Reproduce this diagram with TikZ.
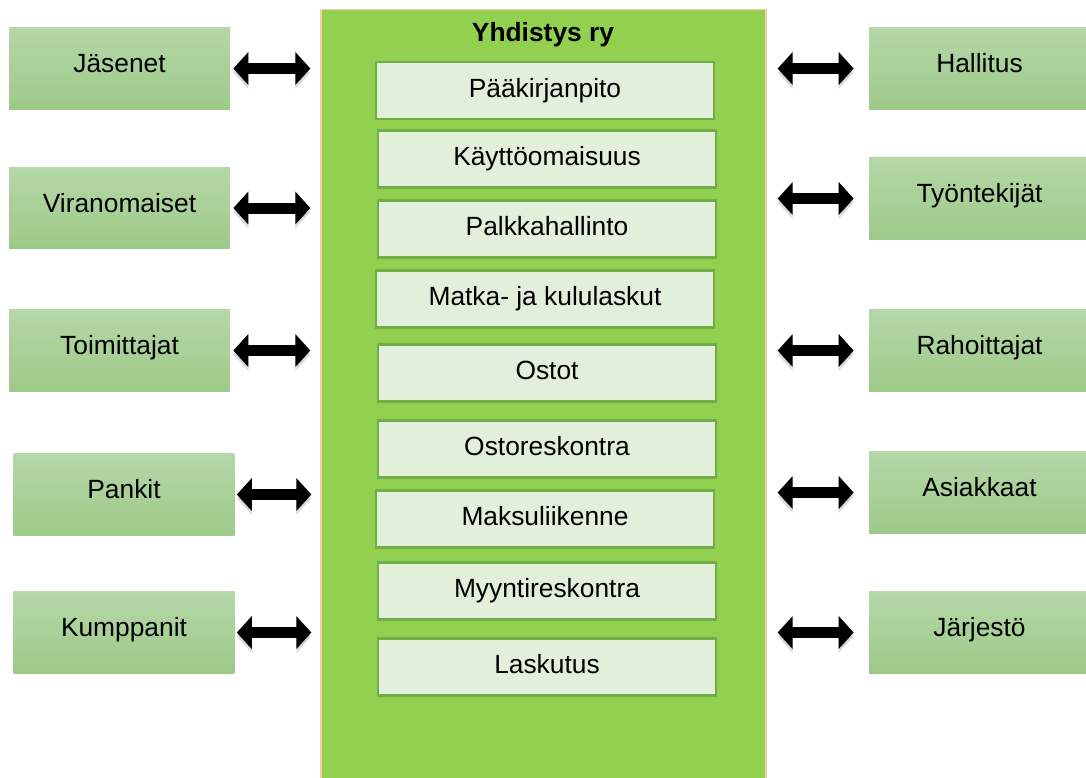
\documentclass[tikz,border=0pt]{standalone}
\usepackage{fontspec}
\setmainfont{Liberation Sans}
\usepackage{xcolor}
\usetikzlibrary{positioning,calc,arrows.meta}

\definecolor{outertop}{RGB}{182,215,168}
\definecolor{outerbot}{RGB}{156,202,136}
\definecolor{innerfill}{RGB}{226,239,218}
\definecolor{innerline}{RGB}{112,173,71}
\definecolor{mainfill}{RGB}{146,208,80}
\definecolor{mainline}{RGB}{248,203,173}

\tikzset{
  outerbox/.style={rectangle, top color=outertop, bottom color=outerbot, draw=none,
    minimum width=4.42cm, minimum height=1.64cm, text height=0.46cm, text depth=0.3cm},
  innerbox/.style={rectangle, fill=innerfill, draw=innerline, line width=1.2pt,
    minimum width=6.76cm, minimum height=1.14cm, text height=0.46cm, text depth=0.2cm},
  mainbox/.style={rectangle, fill=mainfill, draw=mainline, line width=0.8pt,
    minimum width=8.9cm, minimum height=15.7cm, anchor=north},
  dblarrow/.style={line width=0.22cm, {Triangle[width=0.64cm,length=0.3cm]}-{Triangle[width=0.64cm,length=0.3cm]},
    preaction={draw=black!40, opacity=0.35, transform canvas={yshift=-0.08cm}}}
}

\begin{document}
\begin{tikzpicture}[x=0.02cm, y=-0.02cm, font=\fontsize{15}{18}\selectfont]
    \useasboundingbox (0,0) rectangle (1086,778);
    % Yhdistys
    \node[mainbox] (yht) at (543.5,9) {};
    \node (otsikko) at (543,35) {\bfseries Yhdistys ry};
    % Toiminnot
    \node[innerbox] (paa) at (545,90.5) {Pääkirjanpito};
    \node[innerbox] (kay) at (547,159) {Käyttöomaisuus};
    \node[innerbox] (pal) at (547,229) {Palkkahallinto};
    \node[innerbox] (mat) at (545,299) {Matka- ja kululaskut};
    \node[innerbox] (ost) at (547,373) {Ostot};
    \node[innerbox] (osr) at (547,449) {Ostoreskontra};
    \node[innerbox] (mak) at (545,519) {Maksuliikenne};
    \node[innerbox] (myy) at (547,591) {Myyntireskontra};
    \node[innerbox] (las) at (547,667) {Laskutus};
    % Left side
    \node[outerbox] (jas) at (119.5,68.5) {Jäsenet};
    \node[outerbox] (vir) at (119.5,208) {Viranomaiset};
    \node[outerbox] (toi) at (119.5,350.5) {Toimittajat};
    \node[outerbox] (pan) at (124,494.5) {Pankit};
    \node[outerbox] (kum) at (124,632.5) {Kumppanit};
    % Right side
    \node[outerbox] (hal) at (979.5,68.5) {Hallitus};
    \node[outerbox] (tyo) at (979.5,198.5) {Työntekijät};
    \node[outerbox] (rah) at (979.5,350.5) {Rahoittajat};
    \node[outerbox] (asi) at (979.5,492.5) {Asiakkaat};
    \node[outerbox] (jar) at (979.5,632.5) {Järjestö};
    % Arrows left
    \draw[dblarrow, shorten <=0.06cm, shorten >=0.2cm] (jas.east) -- (jas.east -| yht.west);
    \draw[dblarrow, shorten <=0.06cm, shorten >=0.2cm] (vir.east) -- (vir.east -| yht.west);
    \draw[dblarrow, shorten <=0.06cm, shorten >=0.2cm] (toi.east) -- (toi.east -| yht.west);
    \draw[dblarrow, shorten <=0.04cm, shorten >=0.18cm] (pan.east) -- (pan.east -| yht.west);
    \draw[dblarrow, shorten <=0.04cm, shorten >=0.18cm] (kum.east) -- (kum.east -| yht.west);
    % Arrows right
    \draw[dblarrow, shorten <=0.22cm, shorten >=0.3cm] (hal.west -| yht.east) -- (hal.west);
    \draw[dblarrow, shorten <=0.22cm, shorten >=0.3cm] (tyo.west -| yht.east) -- (tyo.west);
    \draw[dblarrow, shorten <=0.22cm, shorten >=0.3cm] (rah.west -| yht.east) -- (rah.west);
    \draw[dblarrow, shorten <=0.22cm, shorten >=0.3cm] (asi.west -| yht.east) -- (asi.west);
    \draw[dblarrow, shorten <=0.22cm, shorten >=0.3cm] (jar.west -| yht.east) -- (jar.west);
\end{tikzpicture}
\end{document}
